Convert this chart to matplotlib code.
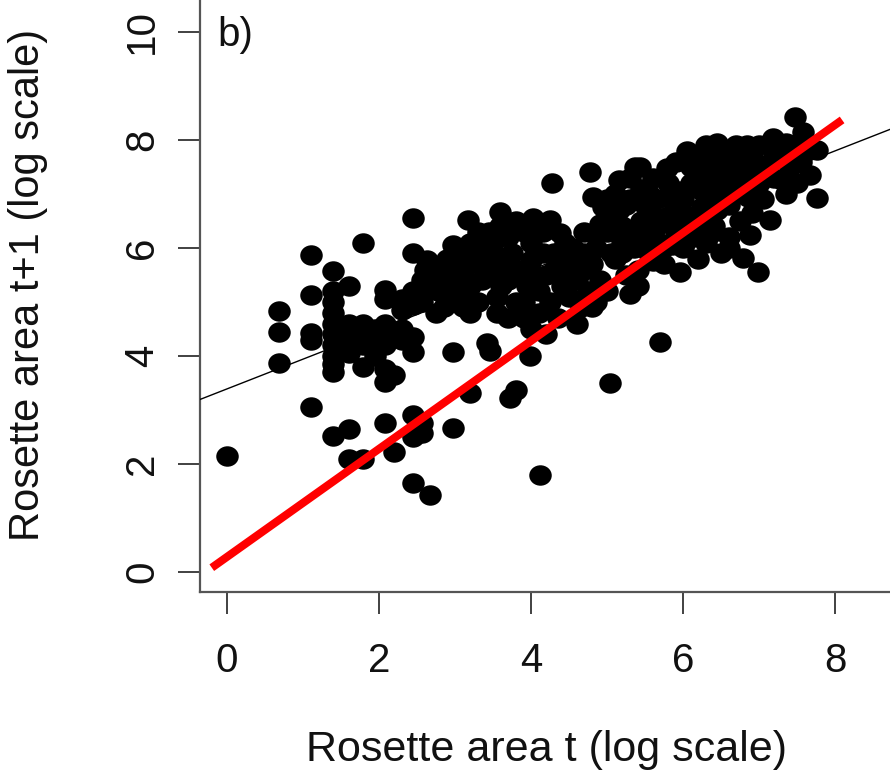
import numpy as np
import matplotlib
matplotlib.use("Agg")
import matplotlib.pyplot as plt
from matplotlib.path import Path
import matplotlib.transforms as mtrans

plt.rcParams['font.family'] = ['Liberation Sans', 'DejaVu Sans']

# log rosette area at t (x) and at t+1 (y)
area_t = [
    0.00,
    0.69, 0.69, 0.69,
    1.10, 1.10, 1.10, 1.10, 1.10,
    1.39, 1.39, 1.39, 1.39, 1.39, 1.39, 1.39, 1.39, 1.39, 1.39, 1.39,
    1.61, 1.61, 1.61, 1.61, 1.61, 1.61,
    1.79, 1.79, 1.79, 1.79, 1.79, 1.79,
    1.95, 1.95, 1.95,
    2.08, 2.08, 2.08, 2.08, 2.08, 2.08, 2.08, 2.08,
    2.20, 2.20,
    2.30, 2.30, 2.30, 2.30,
    2.45, 2.45, 2.45, 2.45, 2.45, 2.45, 2.45, 2.45, 2.45,
    2.57, 2.57, 2.57, 2.57, 2.67, 2.63,
    2.77, 2.77, 2.83, 2.90, 2.90, 2.97, 2.97, 2.97, 3.00, 2.85,
    3.17, 3.20, 3.20, 3.10, 3.20, 3.20, 3.20, 3.30, 3.30,
    3.42, 3.46, 3.55, 3.59, 3.59, 3.50, 3.50, 3.60, 3.60, 3.40, 3.55,
    3.72, 3.80, 3.70, 3.75, 3.80, 3.70, 3.80,
    3.90, 3.99, 4.00, 4.03, 4.00, 4.05, 4.10, 4.00, 4.12,
    4.25, 4.28, 4.38, 4.30, 4.30, 4.40, 4.25, 4.35, 4.20,
    4.55, 4.60, 4.60, 4.50, 4.65, 4.70, 4.60,
    4.78, 4.82, 4.82, 4.85, 4.80, 4.90, 4.95, 4.85, 4.80, 5.00, 5.00, 5.04,
    5.10, 5.15, 5.20, 5.20, 5.10, 5.25, 5.00, 5.30, 5.30, 5.37, 5.20,
    5.43, 5.45, 5.50, 5.45, 5.50, 5.55, 5.40, 5.40, 5.60, 5.60,
    5.70,
    5.74, 5.79, 5.80, 5.85, 5.80, 5.90, 5.75, 5.96,
    6.05, 6.10, 6.10, 6.00, 6.15, 6.10, 6.00, 6.20, 6.20,
    6.30, 6.35, 6.40, 6.30, 6.45, 6.40, 6.30, 6.50, 6.50,
    6.60, 6.65, 6.70, 6.60, 6.75, 6.84, 6.88, 6.79,
    6.99, 7.00, 7.05, 7.14, 7.18, 7.10, 7.20, 7.20, 6.95,
    7.47, 7.58, 7.76, 7.67, 7.76, 7.40, 7.50, 7.45, 7.35,
]
area_t1 = [
    2.15,
    4.83, 4.44, 3.87,
    5.87, 5.13, 4.42, 4.30, 3.05,
    5.57, 5.20, 5.00, 4.80, 4.60, 4.40, 4.20, 4.00, 3.85, 3.70, 2.52,
    5.30, 4.60, 4.30, 4.05, 2.65, 2.10,
    6.10, 4.60, 4.40, 4.20, 3.80, 2.10,
    4.50, 4.30, 4.00,
    5.22, 5.05, 4.60, 4.40, 4.20, 3.75, 3.52, 2.75,
    2.22, 3.65,
    5.05, 4.85, 4.50, 4.30,
    6.55, 5.90, 5.20, 4.95, 4.35, 4.07, 2.90, 2.50, 1.65,
    5.40, 5.00, 2.75, 2.57, 1.43, 5.78,
    5.50, 5.20, 5.60, 5.30, 5.00, 4.07, 2.66, 6.05, 5.70, 4.90,
    6.52, 6.10, 5.80, 5.50, 5.30, 4.80, 3.31, 5.00, 6.30,
    4.24, 4.10, 4.80, 6.67, 6.40, 6.10, 5.90, 5.60, 5.30, 5.50, 5.10,
    3.22, 3.37, 6.20, 5.90, 5.00, 4.70, 6.50,
    5.00, 4.00, 5.78, 6.56, 6.10, 5.50, 5.20, 4.50, 1.80,
    6.52, 7.20, 6.28, 5.90, 5.60, 5.30, 5.00, 4.70, 4.40,
    6.00, 5.70, 5.40, 5.10, 4.90, 6.30, 4.60,
    7.40, 6.94, 6.28, 6.00, 5.70, 5.40, 5.20, 5.00, 4.90, 6.60, 6.90, 3.50,
    7.00, 6.70, 6.40, 6.10, 5.80, 5.50, 5.20, 5.15, 7.30, 7.50, 5.90,
    7.50, 7.10, 6.80, 6.50, 6.20, 5.90, 5.60, 5.30, 7.30, 6.60,
    4.26,
    6.00, 7.48, 7.20, 6.90, 6.60, 6.30, 5.70, 5.56,
    7.80, 7.50, 7.20, 6.90, 6.60, 6.30, 6.00, 5.80, 7.70,
    7.90, 7.60, 7.30, 7.00, 6.70, 6.40, 6.10, 7.80, 5.90,
    7.70, 7.40, 7.10, 6.80, 6.50, 7.90, 6.24, 5.81,
    5.56, 7.20, 6.90, 6.52, 8.04, 7.50, 7.70, 7.30, 7.60,
    8.43, 8.15, 7.81, 7.35, 6.93, 7.50, 7.20, 7.90, 7.00,
]

# extra points hidden inside the two dense blobs
core_t = [
    2.60, 2.70, 2.75, 2.90, 3.00, 3.05, 3.10, 3.15, 3.30, 3.35, 3.35, 3.45,
    3.45, 3.65, 3.65, 3.70, 3.85, 3.90, 3.95, 4.15, 4.15, 4.20, 4.45, 4.45,
    4.50, 4.70, 4.70, 4.75, 3.90, 4.10,
    5.00, 5.05, 5.10, 5.30, 5.35, 5.35, 5.55, 5.65, 5.65, 5.70, 5.90, 5.95,
    5.95, 6.00, 6.05, 6.20, 6.25, 6.25, 6.25, 6.35, 6.45, 6.50, 6.55, 6.55,
    6.60, 6.70, 6.75, 6.85, 6.85, 6.90, 7.00, 7.05, 7.30, 7.30, 7.35, 7.55,
    7.60, 5.25, 5.15, 4.95, 4.90, 5.60, 5.85, 6.60,
]
core_t1 = [
    5.60, 5.30, 4.80, 5.80, 5.40, 5.10, 4.90, 6.00, 5.70, 5.40, 6.00, 5.80,
    6.30, 5.80, 6.50, 5.40, 5.60, 6.30, 5.30, 5.90, 6.30, 5.50, 5.80, 6.10,
    5.50, 5.60, 5.90, 5.20, 4.70, 4.80,
    6.30, 5.90, 6.50, 6.90, 6.30, 6.00, 7.00, 6.90, 6.40, 6.10, 7.60, 7.05,
    6.75, 6.45, 6.15, 7.35, 7.05, 6.75, 6.45, 6.25, 7.95, 7.45, 7.15, 6.90,
    6.20, 7.90, 7.60, 7.30, 6.95, 6.65, 7.90, 7.40, 7.75, 7.25, 7.95, 7.60,
    7.80, 6.80, 7.25, 6.75, 6.45, 5.75, 6.05, 6.00,
]

# fitted regression line (thin black) and red reference line end points
fit_intercept = 3.39
fit_slope = 0.551
red_x = [-0.20, 8.09]
red_y = [0.08, 8.37]

x_ticks = [0, 2, 4, 6, 8]
y_ticks = [0, 2, 4, 6, 8, 10]

fig = plt.figure(figsize=(8.9, 7.78), dpi=100)
ax = fig.add_axes([200 / 890, 186 / 778, 690 / 890, 592 / 778])
ax.set_xlim(-0.355, 8.72)
ax.set_ylim(-0.37, 10.59)

# slightly wide dots, like the stretched original
ell = Path.unit_circle().transformed(mtrans.Affine2D().scale(1.1, 1.0))
ax.plot(area_t + core_t, area_t1 + core_t1, ls='', marker=ell,
        markersize=16.2, color='black', markeredgewidth=0, zorder=2)

xx = np.array(ax.get_xlim())
ax.plot(xx, fit_intercept + fit_slope * xx, color='black', lw=1.0, zorder=3)
ax.plot(red_x, red_y, color='#ff0000', lw=5.8, solid_capstyle='butt', zorder=4)

for s in ['top', 'right']:
    ax.spines[s].set_visible(False)
for s in ['left', 'bottom']:
    ax.spines[s].set_color('#555555')
    ax.spines[s].set_linewidth(1.6)

ax.set_xticks(x_ticks)
ax.set_yticks(y_ticks)
ax.tick_params(axis='both', length=16, width=1.3, color='#333333',
               labelsize=29, labelcolor='#111111')
ax.tick_params(axis='x', pad=20)
ax.tick_params(axis='y', pad=12)
for lab in ax.get_yticklabels():
    lab.set_rotation(90)
    lab.set_va('center')

fig.text(546 / 890, 1 - 750 / 778, 'Rosette area t (log scale)',
         ha='center', va='center', fontsize=31, color='#111111')
fig.text(28 / 890, 1 - 285 / 778, 'Rosette area t+1 (log scale)',
         ha='center', va='center', rotation=90, fontsize=30, color='#111111')
fig.text(217 / 890, 1 - 35 / 778, 'b)', ha='left', va='center',
         fontsize=29, color='#111111')

fig.savefig('out.png', dpi=100)
